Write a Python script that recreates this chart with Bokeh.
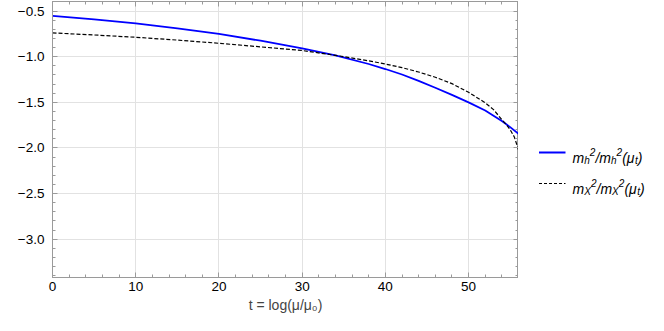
from bokeh.plotting import figure
from bokeh.layouts import row
from bokeh.models import Range1d, SingleIntervalTicker, LinearAxis, CustomJSTickFormatter
from bokeh.core.properties import value
from bokeh.embed import file_html
from bokeh.resources import INLINE

# ---- data ----
t_h = [0, 5, 10, 15, 20, 25, 30, 34, 38, 40, 42, 44, 46, 48, 50, 52, 54, 54.5, 55, 56]
mh_ratio = [-0.553, -0.592, -0.635, -0.69, -0.75, -0.825, -0.91, -0.985, -1.08, -1.135,
            -1.195, -1.265, -1.34, -1.418, -1.50, -1.59, -1.705, -1.738, -1.772, -1.845]
t_x = [0, 5, 10, 15, 20, 25, 30, 34, 38, 40, 42, 44, 46, 48, 50, 52, 53, 54, 54.5, 55, 55.5, 56]
mx_ratio = [-0.739, -0.762, -0.787, -0.818, -0.853, -0.892, -0.932, -0.985, -1.045, -1.08,
            -1.12, -1.168, -1.225, -1.295, -1.39, -1.505, -1.58, -1.69, -1.74, -1.80, -1.88, -2.02]
series_colors = ["#0000ff", "black"]
series_dash = ["solid", "4 2"]
series_width = [1.8, 1.2]

FONT = "Liberation Sans"
AX = "#9a9a9a"
TOP, BOTTOM, H = 1, 38, 315

p = figure(width=518, height=H, output_backend="svg", toolbar_location=None,
           x_range=Range1d(0, 56), y_range=Range1d(-3.42, -0.395),
           min_border_left=52, min_border_right=0, min_border_top=TOP, min_border_bottom=BOTTOM)
p.outline_line_color = AX

minus_fmt = CustomJSTickFormatter(code="return (tick < -1e-9 ? '\u2212' : '') + Math.abs(tick).toFixed(1);")

def style(ax, labels=True):
    ax.axis_line_color = AX
    ax.major_tick_line_color = AX
    ax.minor_tick_line_color = AX
    ax.major_tick_in = 5
    ax.major_tick_out = 0
    ax.minor_tick_in = 3
    ax.minor_tick_out = 0
    ax.major_label_text_font = FONT
    ax.major_label_text_font_size = "13.5px"
    ax.major_label_text_color = "black"
    if not labels:
        ax.major_label_text_font_size = "0px"
        ax.major_label_standoff = 0

xt = SingleIntervalTicker(interval=10, num_minor_ticks=5)
yt = SingleIntervalTicker(interval=0.5, num_minor_ticks=5)
p.xaxis.ticker = xt
p.yaxis.ticker = yt
p.yaxis.formatter = minus_fmt
style(p.xaxis[0]); style(p.yaxis[0])
p.xaxis.major_label_standoff = 4
p.yaxis.major_label_standoff = 8
p.xaxis.axis_label = "t = log(\u03bc/\u03bc\u2080)"
p.xaxis.axis_label_text_font = FONT
p.xaxis.axis_label_text_font_style = "normal"
p.xaxis.axis_label_text_font_size = "14px"
p.xaxis.axis_label_standoff = 3

top = LinearAxis(ticker=SingleIntervalTicker(interval=10, num_minor_ticks=5),
                 formatter=CustomJSTickFormatter(code="return '';"))
right = LinearAxis(ticker=SingleIntervalTicker(interval=0.5, num_minor_ticks=5),
                   formatter=CustomJSTickFormatter(code="return '';"))
style(top, False); style(right, False)
p.add_layout(top, "above")
p.add_layout(right, "right")

p.xgrid.ticker = xt
p.ygrid.ticker = yt
p.xgrid.grid_line_color = "#e2e2e2"
p.ygrid.grid_line_color = "#e2e2e2"

p.line(t_h, mh_ratio, line_color=series_colors[0], line_width=series_width[0], line_dash=series_dash[0])
p.line(t_x, mx_ratio, line_color=series_colors[1], line_width=series_width[1], line_dash=series_dash[1])

# ---- legend panel (separate figure so sub/superscripts can be composed) ----
# panel y range is set so that data y equals page pixel y
lg = figure(width=130, height=H, output_backend="svg", toolbar_location=None,
            x_range=Range1d(0, 130), y_range=Range1d(H - BOTTOM, TOP),
            min_border_left=0, min_border_right=0, min_border_top=TOP, min_border_bottom=BOTTOM,
            x_axis_type=None, y_axis_type=None)
lg.outline_line_color = None
lg.grid.visible = False

X0 = 20.5          # legend sample start (px in panel)
TX = 54.0          # text start
rows_y = [152, 183]
subs = ["h", "X"]
subw = [5.6, 6.7]

big_x, big_y, big_t = [], [], []
small_x, small_y, small_t = [], [], []
for i, (yy, s, sw) in enumerate(zip(rows_y, subs, subw)):
    lg.line([X0, X0 + 26.5], [yy, yy], line_color=series_colors[i],
            line_width=series_width[i], line_dash=("3 2" if i else "solid"))
    base, sup, low = yy + 5, yy - 0.5, yy + 8
    x = TX
    seq = [("m", "B", 11.7), (s, "L", sw), ("2", "S", 5.6), ("/", "B", 3.9),
           ("m", "B", 11.7), (s, "L", sw), ("2", "S", 5.6), ("(\u03bc", "B", 12.8),
           ("t", "L", 2.8), (")", "B", 4.7)]
    for txt, kind, w in seq:
        if kind == "B":
            big_x.append(x); big_y.append(base); big_t.append(txt)
        else:
            small_x.append(x); small_y.append(sup if kind == "S" else low); small_t.append(txt)
        x += w

lg.text(big_x, big_y, text=big_t, text_font=value(FONT), text_font_style="italic",
        text_font_size="14px", text_color="black", text_baseline="alphabetic", text_align="left")
lg.text(small_x, small_y, text=small_t, text_font=value(FONT), text_font_style="italic",
        text_font_size="10px", text_color="black", text_baseline="alphabetic", text_align="left")

layout = row(p, lg, spacing=0)
open("out.html", "w").write(file_html(layout, INLINE))
